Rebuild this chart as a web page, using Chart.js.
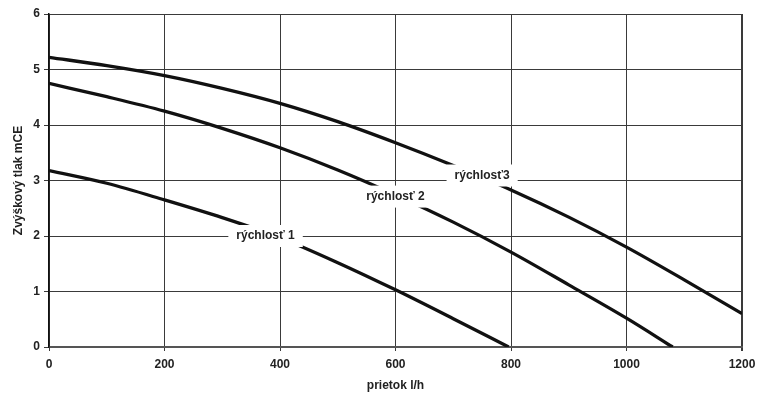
<!DOCTYPE html>
<html>
<head>
<meta charset="utf-8">
<script src="https://cdn.jsdelivr.net/npm/chart.js@4.4.0/dist/chart.umd.min.js"></script>
<style>
  html, body { margin: 0; padding: 0; background: #fff; }
  #wrap { width: 757px; height: 396px; }
</style>
</head>
<body>
<div id="wrap"><canvas id="myChart"></canvas></div>
<script>
// flow l/h
var flow = [0, 100, 200, 300, 400, 500, 600, 700, 800, 900, 1000, 1100, 1200];
// pressure head mCE per speed
var speed1 = [3.18, 2.95, 2.65, 2.33, 1.97, 1.52, 1.03, 0.51, 0.0];
var speed1Flow = [0, 100, 200, 300, 400, 500, 600, 700, 796];
var speed2 = [4.75, 4.51, 4.25, 3.94, 3.59, 3.19, 2.74, 2.25, 1.71, 1.12, 0.52, 0.0];
var speed2Flow = [0, 100, 200, 300, 400, 500, 600, 700, 800, 900, 1000, 1080];
var speed3 = [5.22, 5.07, 4.89, 4.66, 4.39, 4.06, 3.68, 3.27, 2.83, 2.34, 1.80, 1.21, 0.60];

var yTicks = [0, 1, 2, 3, 4, 5, 6];
var xTicks = [0, 200, 400, 600, 800, 1000, 1200];

// curve labels, placed in data units
var labelTexts = ['rýchlosť 1', 'rýchlosť 2', 'rýchlosť3'];
var labelX = [375, 600, 750];
var labelY = [2.0, 2.71, 3.09];

function pairs(xs, ys) {
    var out = [];
    for (var i = 0; i < ys.length; i++) {
        out.push({x: xs[i], y: ys[i]});
    }
    return out;
}

var fontFamily = '"Liberation Sans", Arial, sans-serif';

var curveLabels = {
    id: 'curveLabels',
    afterDatasetsDraw: function(chart) {
        var ctx = chart.ctx;
        var xs = chart.scales.x;
        var ys = chart.scales.y;
        ctx.save();
        ctx.font = 'bold 12px ' + fontFamily;
        ctx.textAlign = 'center';
        ctx.textBaseline = 'middle';
        for (var i = 0; i < labelTexts.length; i++) {
            var px = xs.getPixelForValue(labelX[i]);
            var py = ys.getPixelForValue(labelY[i]);
            var w = ctx.measureText(labelTexts[i]).width + 16;
            ctx.fillStyle = '#fff';
            ctx.fillRect(px - w / 2, py - 11, w, 22);
            ctx.fillStyle = '#222';
            ctx.fillText(labelTexts[i], px, py);
        }
        ctx.restore();
    }
};

var lineStyle = {
    borderColor: '#111',
    borderWidth: 3.3,
    pointRadius: 0,
    fill: false,
    tension: 0.4,
    cubicInterpolationMode: 'monotone'
};

var ctx = document.getElementById('myChart');
new Chart(ctx, {
    type: 'line',
    data: {
        datasets: [
            Object.assign({label: labelTexts[0], data: pairs(speed1Flow, speed1)}, lineStyle),
            Object.assign({label: labelTexts[1], data: pairs(speed2Flow, speed2)}, lineStyle),
            Object.assign({label: labelTexts[2], data: pairs(flow, speed3)}, lineStyle)
        ]
    },
    options: {
        responsive: true,
        maintainAspectRatio: false,
        animation: false,
        layout: { padding: { left: 0, top: 14, right: 15, bottom: 0 } },
        plugins: { legend: { display: false }, tooltip: { enabled: false } },
        scales: {
            x: {
                type: 'linear',
                min: 0,
                max: 1200,
                afterBuildTicks: function(scale) {
                    scale.ticks = xTicks.map(function(v) { return {value: v}; });
                },
                afterFit: function(scale) {
                    scale.height = 49;
                    scale.paddingLeft = 0;
                    scale.paddingRight = 0;
                },
                grid: {
                    color: '#3a3a3a',
                    lineWidth: function(c) { return c.tick && c.tick.value === 1200 ? 2 : 1; },
                    tickLength: 4
                },
                border: { color: '#555', width: 2 },
                ticks: {
                    color: '#222',
                    padding: 6,
                    maxRotation: 0,
                    callback: function(v) { return String(v); },
                    font: { family: fontFamily, size: 12, weight: 'bold' }
                },
                title: {
                    display: true,
                    text: 'prietok l/h',
                    color: '#222',
                    padding: { top: 0, bottom: 3 },
                    font: { family: fontFamily, size: 12, weight: 'bold' }
                }
            },
            y: {
                min: 0,
                max: 6,
                afterBuildTicks: function(scale) {
                    scale.ticks = yTicks.map(function(v) { return {value: v}; });
                },
                afterFit: function(scale) { scale.width = 49; },
                grid: { color: '#3a3a3a', lineWidth: 1, tickLength: 5 },
                border: { color: '#111', width: 1.5 },
                ticks: {
                    color: '#222',
                    padding: 4,
                    callback: function(v) { return String(v); },
                    font: { family: fontFamily, size: 12, weight: 'bold' }
                },
                title: {
                    display: true,
                    text: 'Zvýškový tlak mCE',
                    color: '#222',
                    padding: { top: 11, bottom: 0 },
                    font: { family: fontFamily, size: 12, weight: 'bold' }
                }
            }
        }
    },
    plugins: [curveLabels]
});
</script>
</body>
</html>
